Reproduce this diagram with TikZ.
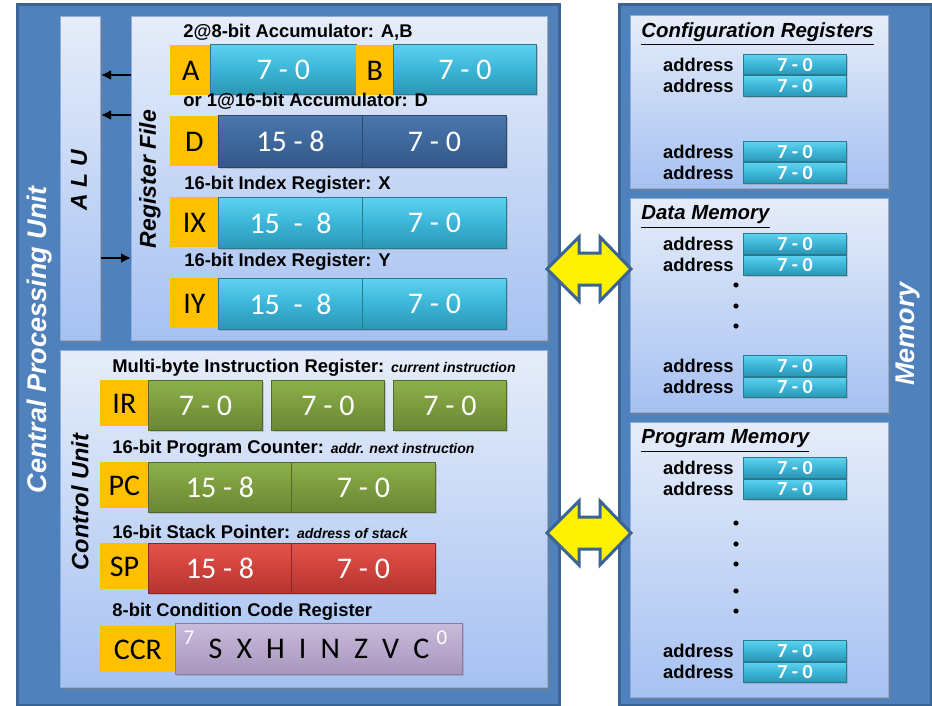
\documentclass[tikz,border=0pt]{standalone}
\usepackage{fontspec}
\setmainfont{Liberation Sans}
\newfontfamily\calfont{Carlito}
\usepackage{tikz}
\usetikzlibrary{arrows.meta,positioning,shadows}

\definecolor{outerblue}{HTML}{4F81BD}
\definecolor{outerline}{HTML}{3A6494}
\definecolor{paneltop}{HTML}{E6EDF9}
\definecolor{panelbot}{HTML}{A6C1F2}
\definecolor{panelline}{HTML}{8FAAD6}
\definecolor{lblyellow}{HTML}{FFC000}
\definecolor{cyantop}{HTML}{5ED2EF}
\definecolor{cyanmid}{HTML}{3BB5D7}
\definecolor{cyanbot}{HTML}{2B96B3}
\definecolor{cyanline}{HTML}{287A90}
\definecolor{dbluetop}{HTML}{4B77AC}
\definecolor{dbluemid}{HTML}{3E679B}
\definecolor{dbluebot}{HTML}{345888}
\definecolor{dblueline}{HTML}{2A4770}
\definecolor{greentop}{HTML}{8DB04A}
\definecolor{greenmid}{HTML}{7B9B3E}
\definecolor{greenbot}{HTML}{6A8634}
\definecolor{greenline}{HTML}{526A28}
\definecolor{redtop}{HTML}{E2534B}
\definecolor{redmid}{HTML}{CF423C}
\definecolor{redbot}{HTML}{B33430}
\definecolor{redline}{HTML}{882824}
\definecolor{purptop}{HTML}{C9BBDA}
\definecolor{purpmid}{HTML}{B8A8CC}
\definecolor{purpbot}{HTML}{A796BD}
\definecolor{purpline}{HTML}{8A79A4}

\newcommand{\smallnote}[1]{{\itshape\fontsize{7}{8}\selectfont #1}}

\begin{document}
\begin{tikzpicture}[
    x=0.5pt, y=-0.5pt,
    >={Latex[length=5pt,width=5pt]},
    wh/.style 2 args={minimum width=#1*0.5pt, minimum height=#2*0.5pt},
    outerbox/.style={draw=outerline, line width=1.5pt, fill=outerblue,
        anchor=north west, inner sep=0pt},
    panel/.style={draw=panelline, line width=0.5pt, top color=paneltop,
        bottom color=panelbot, anchor=north west, inner sep=0pt,
        drop shadow={shadow xshift=1.2pt, shadow yshift=-1.2pt, opacity=0.45}},
    regname/.style={fill=lblyellow, anchor=north west, inner sep=0pt,
        font=\calfont\fontsize{15}{15}\selectfont},
    cell/.style={anchor=north west, inner sep=0pt, line width=0.5pt, text=white,
        font=\calfont\fontsize{15}{15}\selectfont,
        drop shadow={shadow xshift=0.8pt, shadow yshift=-0.8pt, opacity=0.35}},
    cyancell/.style={cell, draw=cyanline, top color=cyantop, bottom color=cyanbot, middle color=cyanmid},
    bluecell/.style={cell, draw=dblueline, top color=dbluetop, bottom color=dbluebot, middle color=dbluemid},
    greencell/.style={cell, draw=greenline, top color=greentop, bottom color=greenbot, middle color=greenmid},
    redcell/.style={cell, draw=redline, top color=redtop, bottom color=redbot, middle color=redmid},
    purpcell/.style={cell, draw=purpline, top color=purptop, bottom color=purpbot, middle color=purpmid, text=black},
    memcell/.style={cyancell, wh={103}{20.5}, font=\calfont\bfseries\fontsize{10}{10}\selectfont},
    addr/.style={inner sep=0pt, font=\bfseries\fontsize{9.2}{10}\selectfont},
    head/.style={anchor=west, inner sep=0pt, font=\bfseries\fontsize{9.2}{10}\selectfont},
    memhead/.style={anchor=west, inner sep=0pt, font=\bfseries\itshape\fontsize{10.2}{11}\selectfont},
    vtitle/.style={rotate=90, inner sep=0pt, font=\bfseries\itshape\fontsize{#1}{15}\selectfont},
    bus/.style={draw=outerline, line width=1.5pt, fill=yellow, line join=miter}
]
\useasboundingbox (0,0) rectangle (932,706);

% Blocks
\node[outerbox, wh={542}{701}] (cpu) at (16,3) {};
\node[outerbox, wh={312}{701}] (mem) at (618,3) {};

\node[panel, wh={40}{324}] (alu) at (60,16) {};
\node[panel, wh={416}{324}] (rf) at (131,16) {};
\node[panel, wh={487}{337}] (cu) at (60,350) {};

\node[panel, wh={258}{173}] (cfg) at (630,15) {};
\node[panel, wh={258}{214}] (dmem) at (630,198) {};
\node[panel, wh={258}{275}] (pmem) at (630,422) {};

% Titles
\node[vtitle=13.5, text=white] (cputitle) at (40,340) {Central Processing Unit};
\node[vtitle=11.5] (alutitle) at (79,180) {A L U};
\node[vtitle=11.5] (rftitle) at (150,179) {Register File};
\node[vtitle=11.8] (cutitle) at (80,502) {Control Unit};
\node[vtitle=13.5, text=white] (memtitle) at (908,334) {Memory};

% Register file
\node[head] (hab) at (183,32) {2@8-bit Accumulator: A,B};
\node[regname, wh={41}{50}] (na) at (170,45) {A};
\node[cyancell, wh={146}{50}] (ra) at (210,44) {7 - 0};
\node[regname, wh={37}{50}] (nb) at (356,45) {B};
\node[cyancell, wh={143}{50}] (rb) at (393,44) {7 - 0};

\node[head] (hd) at (183,101) {or 1@16-bit Accumulator: D};
\node[regname, wh={48}{50}] (nd) at (170,116) {D};
\node[bluecell, wh={144}{52}] (rdh) at (218,115) {15 - 8};
\node[bluecell, wh={144}{52}] (rdl) at (362,115) {7 - 0};

\node[head] (hx) at (184,185) {16-bit Index Register: X};
\node[regname, wh={48}{50}] (nx) at (170,197) {IX};
\node[cyancell, wh={144}{51}] (rxh) at (218,197) {15\ \ -\ \ 8};
\node[cyancell, wh={144}{51}] (rxl) at (362,197) {7 - 0};

\node[head] (hy) at (184,262) {16-bit Index Register: Y};
\node[regname, wh={48}{50}] (ny) at (170,278) {IY};
\node[cyancell, wh={144}{51}] (ryh) at (218,278) {15\ \ -\ \ 8};
\node[cyancell, wh={144}{51}] (ryl) at (362,278) {7 - 0};

% Control unit
\node[head] (hir) at (112,368) {Multi-byte Instruction Register: \smallnote{current instruction}};
\node[regname, wh={48}{46}] (nir) at (100,380) {IR};
\node[greencell, wh={114}{50}] (ir1) at (148,380) {7 - 0};
\node[greencell, wh={113}{50}] (ir2) at (271,380) {7 - 0};
\node[greencell, wh={113}{50}] (ir3) at (393,380) {7 - 0};

\node[head] (hpc) at (112,449) {16-bit Program Counter: \smallnote{addr. next instruction}};
\node[regname, wh={48}{46}] (npc) at (100,462) {PC};
\node[greencell, wh={143}{50}] (pch) at (148,462) {15 - 8};
\node[greencell, wh={144}{50}] (pcl) at (291,462) {7 - 0};

\node[head] (hsp) at (112,532) {16-bit Stack Pointer: \smallnote{address of stack}};
\node[regname, wh={48}{46}] (nsp) at (100,543) {SP};
\node[redcell, wh={143}{50}] (sph) at (148,543) {15 - 8};
\node[redcell, wh={144}{50}] (spl) at (291,543) {7 - 0};

\node[head] (hccr) at (112,612) {8-bit Condition Code Register};
\node[regname, wh={75}{46}] (nccr) at (100,626) {CCR};
\node[purpcell, wh={287}{51}] (ccr) at (175,623)
    {S\hspace{.47em}X\hspace{.47em}H\hspace{.47em}I\hspace{.47em}N\hspace{.47em}Z\hspace{.47em}V\hspace{.47em}C};
\node[text=white, inner sep=0pt, font=\calfont\fontsize{10.5}{10.5}\selectfont] (ccrhi) at (189,638) {7};
\node[text=white, inner sep=0pt, font=\calfont\fontsize{10.5}{10.5}\selectfont] (ccrlo) at (442,638) {0};

% Memory
\node[memhead] (hcfg) at (641,34) {\underline{Configuration Registers}};
\node[memhead] (hdmem) at (641,217) {\underline{Data Memory}};
\node[memhead] (hpmem) at (641,441) {\underline{Program Memory}};

\foreach \yy/\nm in {54/c1,141/c2,233/d1,355/d2,457/p1,640/p2}{
    \node[memcell] (\nm-top) at (743,\yy) {7 - 0};
    \node[memcell, below=0pt of \nm-top] (\nm-bot) {7 - 0};
    \node[addr, left=4.5pt of \nm-top] (\nm-at) {address};
    \node[addr, left=4.5pt of \nm-bot] (\nm-ab) {address};
}
\foreach \yy in {285,306,326,523,544,564,591,611}
    \fill (736,\yy) circle (1.3pt);

% Connections
\coordinate (aluin) at (0,258);
\coordinate (aluouta) at (0,75);
\coordinate (aluoutb) at (0,115);
\draw[->, line width=1pt] (rf.west |- aluouta) -- (alu.east |- aluouta);
\draw[->, line width=1pt] (rf.west |- aluoutb) -- (alu.east |- aluoutb);
\draw[->, line width=1pt] (alu.east |- aluin) -- (rf.west |- aluin);

\coordinate (busa) at (547,269);
\coordinate (busb) at (547,533);
\foreach \b in {busa,busb}
    \draw[bus] (\b) -- ++(32,-32) -- ++(0,16) -- ++(21,0) -- ++(0,-16) -- ++(31,32)
        -- ++(-31,32) -- ++(0,-16) -- ++(-21,0) -- ++(0,16) -- cycle;
\end{tikzpicture}
\end{document}
